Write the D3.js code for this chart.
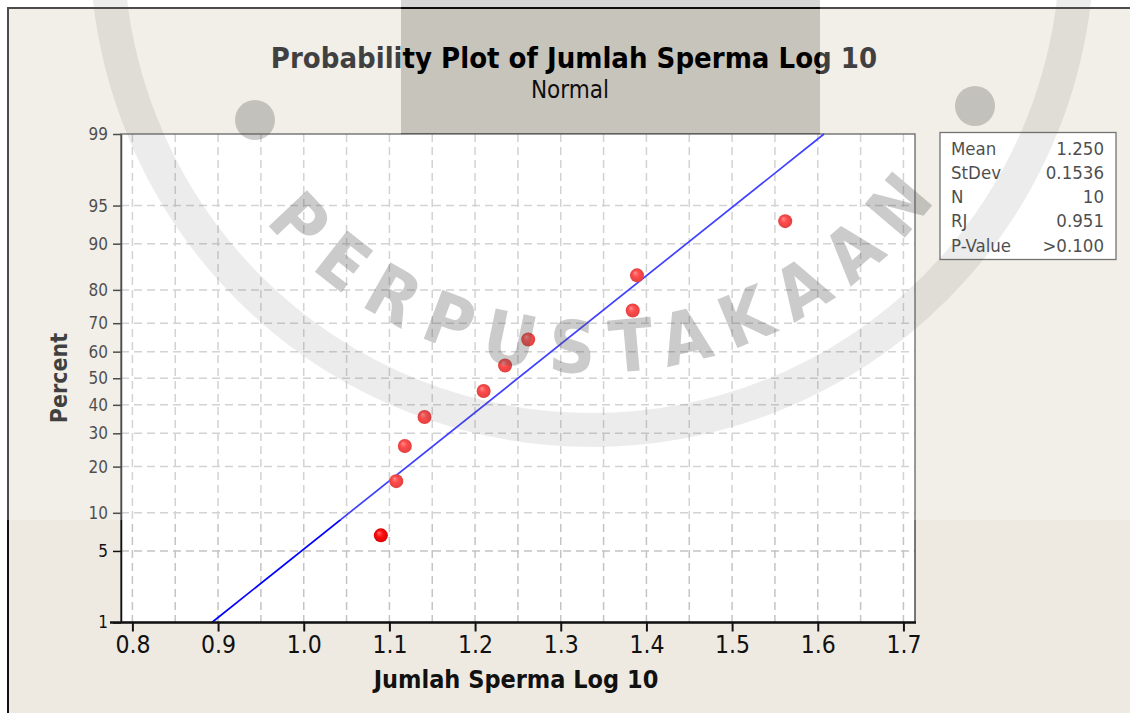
<!DOCTYPE html>
<meta charset="UTF-8">
<style>
  body { margin: 0; background: #fff; }
  svg text { font-family: "DejaVu Sans Condensed", "DejaVu Sans", sans-serif; }
  .grid line { stroke: #c4c4c4; stroke-width: 1.5px; stroke-dasharray: 8,5; }
  .axis path, .axis line { stroke: #111; }
</style>
<body>
<svg id="chart" width="1130" height="713"></svg>
<script src="https://d3js.org/d3.v7.min.js"></script>
<script>

// ---- data ----
var xTicks = [0.8, 0.9, 1.0, 1.1, 1.2, 1.3, 1.4, 1.5, 1.6, 1.7];
var pctTicks = [1, 5, 10, 20, 30, 40, 50, 60, 70, 80, 90, 95, 99];

var sampleX   = [1.090, 1.108, 1.118, 1.141, 1.210, 1.235, 1.262, 1.384, 1.389, 1.562];
var samplePct = [6.73, 16.35, 25.96, 35.58, 45.19, 54.81, 64.42, 74.04, 83.65, 93.27];

// fitted line end points (x, percent)
var fitX   = [0.8927, 1.6073];
var fitPct = [1, 99];

var statLabels = ["Mean", "StDev", "N", "RJ", "P-Value"];
var statValues = ["1.250", "0.1536", "10", "0.951", ">0.100"];

// inverse normal cdf (Acklam)
function probit(p) {
  var a = [-3.969683028665376e+01, 2.209460984245205e+02, -2.759285104469687e+02, 1.383577518672690e+02, -3.066479806614716e+01, 2.506628277459239e+00],
      b = [-5.447609879822406e+01, 1.615858368580409e+02, -1.556989798598866e+02, 6.680131188771972e+01, -1.328068155288572e+01],
      c = [-7.784894002430293e-03, -3.223964580411365e-01, -2.400758277161838e+00, -2.549732539343734e+00, 4.374664141464968e+00, 2.938163982698783e+00],
      d = [7.784695709041462e-03, 3.224671290700398e-01, 2.445134137142996e+00, 3.754408661907416e+00];
  var q, r;
  if (p < 0.02425) {
    q = Math.sqrt(-2 * Math.log(p));
    return (((((c[0]*q+c[1])*q+c[2])*q+c[3])*q+c[4])*q+c[5]) / ((((d[0]*q+d[1])*q+d[2])*q+d[3])*q+1);
  } else if (p > 1 - 0.02425) {
    q = Math.sqrt(-2 * Math.log(1 - p));
    return -(((((c[0]*q+c[1])*q+c[2])*q+c[3])*q+c[4])*q+c[5]) / ((((d[0]*q+d[1])*q+d[2])*q+d[3])*q+1);
  }
  q = p - 0.5; r = q * q;
  return (((((a[0]*r+a[1])*r+a[2])*r+a[3])*r+a[4])*r+a[5])*q / (((((b[0]*r+b[1])*r+b[2])*r+b[3])*r+b[4])*r+1);
}

var svg = d3.select("#chart");

var plot = {left: 121, top: 134, right: 915, bottom: 622.5};

var x = d3.scaleLinear().domain([0.7867, 1.7135]).range([plot.left, plot.right]);
var yz = d3.scaleLinear().domain([probit(0.01), probit(0.99)]).range([plot.bottom, plot.top]);
function y(pct) { return yz(probit(pct / 100)); }

// frame background
svg.append("rect")
    .attr("x", 8).attr("y", 8).attr("width", 1140).attr("height", 720)
    .attr("fill", "#eeeae1").attr("stroke", "#111").attr("stroke-width", 2);

// plot area
svg.append("rect")
    .attr("x", plot.left).attr("y", plot.top)
    .attr("width", plot.right - plot.left).attr("height", plot.bottom - plot.top)
    .attr("fill", "#fff");

// grid
var grid = svg.append("g").attr("class", "grid");
grid.selectAll("line.v")
  .data(d3.range(16, 35).map(function(k) { return k * 0.05; }))
  .enter().append("line")
    .attr("x1", function(d) { return x(d); }).attr("x2", function(d) { return x(d); })
    .attr("y1", plot.top).attr("y2", plot.bottom);
grid.selectAll("line.h")
  .data(pctTicks.slice(1, -1))
  .enter().append("line")
    .attr("x1", plot.left).attr("x2", plot.right)
    .attr("y1", function(d) { return y(d); }).attr("y2", function(d) { return y(d); });

// plot border
svg.append("rect")
    .attr("x", plot.left).attr("y", plot.top)
    .attr("width", plot.right - plot.left).attr("height", plot.bottom - plot.top)
    .attr("fill", "none").attr("stroke", "#333").attr("stroke-width", 1.3);

// fitted line
svg.append("line")
    .attr("x1", x(fitX[0])).attr("y1", y(fitPct[0]))
    .attr("x2", x(fitX[1])).attr("y2", y(fitPct[1]))
    .attr("stroke", "#0000ff").attr("stroke-width", 1.7);

// points
var defs = svg.append("defs");
var grad = defs.append("radialGradient").attr("id", "dot")
    .attr("fx", "0.35").attr("fy", "0.3");
grad.append("stop").attr("offset", "0%").attr("stop-color", "#ff6a6a");
grad.append("stop").attr("offset", "45%").attr("stop-color", "#ff1010");
grad.append("stop").attr("offset", "100%").attr("stop-color", "#d80000");

svg.selectAll("circle.pt")
  .data(sampleX)
  .enter().append("circle")
    .attr("class", "pt")
    .attr("cx", function(d) { return x(d); })
    .attr("cy", function(d, i) { return y(samplePct[i]); })
    .attr("r", 7)
    .attr("fill", "url(#dot)");

// axes
var xAxis = svg.append("g")
    .attr("class", "axis")
    .attr("transform", "translate(0," + plot.bottom + ")")
    .call(d3.axisBottom(x).tickValues(xTicks).tickFormat(d3.format(".1f")).tickSize(9).tickSizeOuter(0));
xAxis.select(".domain").attr("stroke-width", 2.5).attr("d", "M" + (plot.left - 11) + ",0H" + (plot.right + 1));
xAxis.selectAll(".tick line").attr("stroke-width", 2);
xAxis.selectAll(".tick text")
    .attr("y", 13).attr("font-size", 24.5).attr("fill", "#111");

var yAxis = svg.append("g")
    .attr("class", "axis")
    .attr("transform", "translate(" + plot.left + ",0)")
    .call(d3.axisLeft(yz)
      .tickValues(pctTicks.map(function(p) { return probit(p / 100); }))
      .tickFormat(function(d, i) { return pctTicks[i]; })
      .tickSize(8).tickSizeOuter(0));
yAxis.select(".domain").attr("stroke-width", 1.5);
yAxis.selectAll(".tick line").attr("stroke-width", 1.5);
yAxis.selectAll(".tick text")
    .attr("x", -13).attr("font-size", 17).attr("fill", "#111");

// titles
svg.append("text")
    .attr("x", 574).attr("y", 68).attr("text-anchor", "middle")
    .attr("font-size", 29).attr("font-weight", "bold").attr("fill", "#000")
    .text("Probability Plot of Jumlah Sperma Log 10");
svg.append("text")
    .attr("x", 570).attr("y", 98).attr("text-anchor", "middle")
    .attr("font-size", 24).attr("fill", "#111")
    .text("Normal");
svg.append("text")
    .attr("x", 516).attr("y", 688).attr("text-anchor", "middle")
    .attr("font-size", 25).attr("font-weight", "bold").attr("fill", "#111")
    .text("Jumlah Sperma Log 10");
svg.append("text")
    .attr("transform", "translate(67,378) rotate(-90)").attr("text-anchor", "middle")
    .attr("font-size", 23).attr("font-weight", "bold").attr("fill", "#000")
    .text("Percent");

// stats box
var box = svg.append("g");
box.append("rect")
    .attr("x", 940).attr("y", 132.5).attr("width", 176).attr("height", 127)
    .attr("fill", "#fff").attr("stroke", "#444").attr("stroke-width", 1.3);
box.selectAll("text.lab")
  .data(statLabels)
  .enter().append("text")
    .attr("x", 951).attr("y", function(d, i) { return 154.5 + i * 24.3; })
    .attr("font-size", 18.5).attr("fill", "#111")
    .text(function(d) { return d; });
box.selectAll("text.val")
  .data(statValues)
  .enter().append("text")
    .attr("x", 1104).attr("y", function(d, i) { return 154.5 + i * 24.3; })
    .attr("text-anchor", "end")
    .attr("font-size", 18.5).attr("fill", "#111")
    .text(function(d) { return d; });

// ---- library stamp watermark over the scan ----
var wm = svg.append("g").attr("pointer-events", "none");
wm.append("path")
    .attr("d", "M0,0H1130V520H0Z M401,0V134H820V0Z")
    .attr("fill-rule", "evenodd")
    .attr("fill", "#fff").attr("opacity", 0.25);
wm.append("rect")
    .attr("x", 401).attr("y", 0).attr("width", 419).attr("height", 134)
    .attr("fill", "#000").attr("opacity", 0.16);

var cx = 592, cy = -55;
wm.append("circle")
    .attr("cx", cx).attr("cy", cy).attr("r", 485)
    .attr("fill", "none").attr("stroke", "#555").attr("stroke-width", 34).attr("opacity", 0.11);
wm.selectAll("circle.wdot")
  .data([[255, 120], [975, 106]])
  .enter().append("circle")
    .attr("cx", function(d) { return d[0]; }).attr("cy", function(d) { return d[1]; })
    .attr("r", 20).attr("fill", "#555").attr("opacity", 0.3);

var rr = 428;
defs.append("path").attr("id", "arc")
    .attr("d", "M" + (cx - rr) + "," + cy + " A" + rr + "," + rr + " 0 0 0 " + (cx + rr) + "," + cy);
wm.append("text")
    .attr("font-size", 72).attr("font-weight", "bold")
    .attr("fill", "#555").attr("opacity", 0.3)
  .append("textPath")
    .attr("href", "#arc")
    .attr("startOffset", "51%").attr("text-anchor", "middle")
    .attr("textLength", 770).attr("lengthAdjust", "spacing")
    .text("PERPUSTAKAAN");

</script>
</body>
